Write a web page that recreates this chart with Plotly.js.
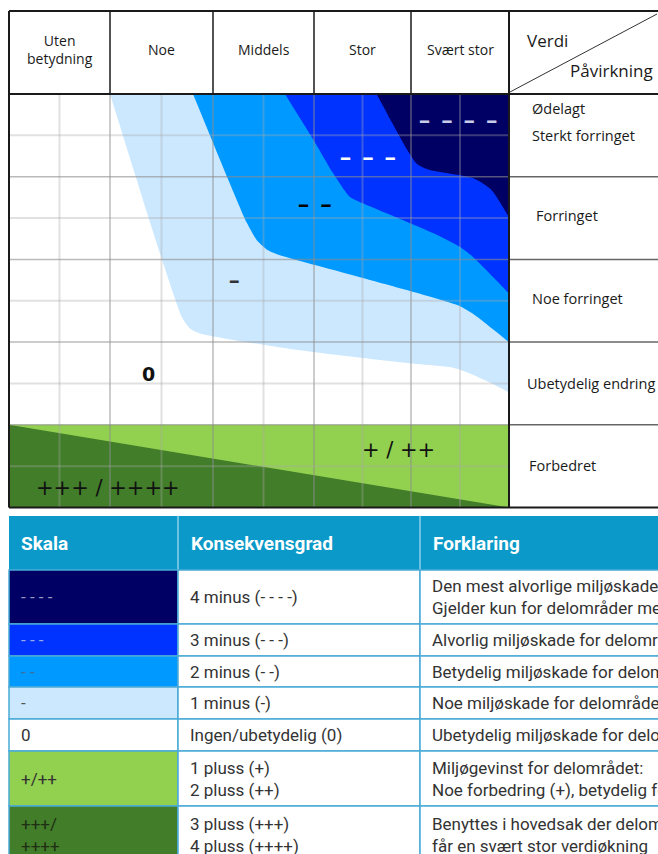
<!DOCTYPE html>
<html><head><meta charset="utf-8">
<script src="https://cdn.plot.ly/plotly-3.0.1.min.js"></script>
<style>html,body{margin:0;padding:0;background:#fff}#chart{width:658px;height:854px}</style>
</head><body><div id="chart"></div>
<script>
// ================= DATA =================
// Verdi (columns) and påvirkning (rows)
const verdiKategorier = ['Uten<br>betydning', 'Noe', 'Middels', 'Stor', 'Svært stor'];
const påvirkningRader = ['Ødelagt', 'Sterkt forringet', 'Forringet', 'Noe forringet', 'Ubetydelig endring', 'Forbedret'];

// Boundary curves (x: verdi scale 0–10, y: påvirkning scale 0 = top … 10 = bottom)
const grense1X = [2.02, 3.46, 3.62, 3.82, 5.82, 7.82, 8.92, 9.22, 9.62, 10];   // 0 | -
const grense1Y = [0, 5.4, 5.67, 5.79, 6.2, 6.49, 6.63, 6.76, 6.98, 7.22];
const grense2X = [3.68, 4.76, 4.96, 5.18, 5.42, 7.02, 8.98, 9.32, 10];          // - | --
const grense2Y = [0, 3.12, 3.54, 3.78, 3.90, 4.43, 5.11, 5.35, 6.0];
const grense3X = [5.52, 6.09, 6.48, 6.82, 7.09, 8.49, 9.02, 9.28, 10];          // -- | ---
const grense3Y = [0, 1.11, 1.91, 2.49, 2.65, 3.37, 3.70, 3.94, 4.82];
const grense4X = [7.35, 8.15, 8.42, 9.29, 9.65, 10];                            // --- | ----
const grense4Y = [0, 1.68, 1.84, 2.04, 2.32, 2.97];
// Improvement row
const forbedretLysX = [0, 10, 10, 0];
const forbedretLysY = [8, 8, 10, 10];
const forbedretMørkX = [0, 10, 0];
const forbedretMørkY = [8, 10, 10];

const båndEtiketter = ['– – – –', '– – –', '– –', '–', '0', '+ / ++', '+++ / ++++'];

// Table
const tabellHode = ['Skala', 'Konsekvensgrad', 'Forklaring'];
const skala = ['- - - -', '- - -', '- -', '-', '0', '+/++', '+++/<br>++++'];
const konsekvensgrad = ['4 minus (- - - -)', '3 minus (- - -)', '2 minus (- -)', '1 minus (-)',
  'Ingen/ubetydelig (0)', '1 pluss (+)<br>2 pluss (++)', '3 pluss (+++)<br>4 pluss (++++)'];
const forklaring = [
  'Den mest alvorlige miljøskaden som kan oppnås for delområdet.<br>Gjelder kun for delområder med svært stor verdi.',
  'Alvorlig miljøskade for delområdet',
  'Betydelig miljøskade for delområdet',
  'Noe miljøskade for delområdet',
  'Ubetydelig miljøskade for delområdet',
  'Miljøgevinst for delområdet:<br>Noe forbedring (+), betydelig forbedring (++)',
  'Benyttes i hovedsak der delområder i dag har liten verdi, men<br>får en svært stor verdiøkning'];

// ================= STYLE / LAYOUT =================
const W = 658, H = 854;
const P = v => v / W;          // pixel x -> paper
const Q = v => 1 - v / H;      // pixel y -> paper
const xL = 9, xR = 509, yT = 94, yB = 507.5, yHead = 11;
const XU = v => (v - xL) / 50; // pixel x -> x-axis units
const kolPx = [9, 110, 213, 314, 411, 509];   // column borders (pixels)

const C = {navy: '#000064', blue: '#0033FF', mid: '#0099FF', light: '#CCE8FF',
  lgreen: '#92D050', dgreen: '#427D2A', head: '#0A99C8', tborder: '#4AABD6'};

function band(xs, ys) {
  const n = xs.length, X = xs.slice(), Y = ys.slice(), e = 0.6;
  X.unshift(xs[0] - (xs[1] - xs[0]) / (ys[1] - ys[0]) * e); Y.unshift(-e);
  X.push(10 + e); Y.push(ys[n - 1] + (ys[n - 1] - ys[n - 2]) / (xs[n - 1] - xs[n - 2]) * e);
  X.push(10 + e); Y.push(-e);
  return {X, Y};
}
function fillTrace(x, y, color, spline) {
  return {type: 'scatter', mode: 'lines', x, y, fill: 'toself', fillcolor: color,
    line: {width: 0, color, shape: spline ? 'spline' : 'linear', smoothing: 0.6},
    hoverinfo: 'skip', showlegend: false};
}
const traces = [];
traces.push(fillTrace(forbedretLysX, forbedretLysY, C.lgreen, false));
traces.push(fillTrace(forbedretMørkX, forbedretMørkY, C.dgreen, false));
[[grense1X, grense1Y, C.light], [grense2X, grense2Y, C.mid], [grense3X, grense3Y, C.blue], [grense4X, grense4Y, C.navy]]
  .forEach(([gx, gy, col]) => { const b = band(gx, gy); traces.push(fillTrace(b.X, b.Y, col, true)); });

const shapes = [];
const stMajor = {color: 'rgba(140,140,140,0.6)', width: 1.5};
const stMinor = {color: 'rgba(170,170,170,0.35)', width: 2};
// vertical grid: column borders + half columns
for (let c = 0; c < 5; c++) {
  const a = XU(kolPx[c]), b = XU(kolPx[c + 1]);
  shapes.push({type: 'line', xref: 'x', yref: 'y', x0: (a + b) / 2, x1: (a + b) / 2, y0: 0, y1: 10, line: stMinor, layer: 'above'});
  if (c > 0) shapes.push({type: 'line', xref: 'x', yref: 'y', x0: a, x1: a, y0: 0, y1: 10, line: stMajor, layer: 'above'});
}
for (let i = 1; i < 10; i++) {
  shapes.push({type: 'line', xref: 'x', yref: 'y', x0: 0, x1: 10, y0: i, y1: i, line: i % 2 ? stMinor : stMajor, layer: 'above'});
}
// right column row separators
for (let i = 2; i < 10; i += 2) {
  shapes.push({type: 'line', xref: 'paper', yref: 'y', x0: P(xR), x1: 1.05, y0: i, y1: i,
    line: {color: '#666', width: 1.5}});
}
// frame
const blk = {color: '#1a1a1a', width: 2};
shapes.push({type: 'line', xref: 'paper', yref: 'paper', x0: P(xL), x1: 1.05, y0: Q(yHead), y1: Q(yHead), line: blk});
shapes.push({type: 'line', xref: 'paper', yref: 'paper', x0: P(xL), x1: 1.05, y0: Q(yT), y1: Q(yT), line: blk});
shapes.push({type: 'line', xref: 'paper', yref: 'paper', x0: P(xL), x1: 1.05, y0: Q(yB), y1: Q(yB), line: blk});
shapes.push({type: 'line', xref: 'paper', yref: 'paper', x0: P(xL), x1: P(xL), y0: Q(yHead), y1: Q(yB), line: blk});
shapes.push({type: 'line', xref: 'paper', yref: 'paper', x0: P(xR), x1: P(xR), y0: Q(yHead), y1: Q(yB), line: blk});
for (let c = 1; c < 5; c++) {
  shapes.push({type: 'line', xref: 'paper', yref: 'paper', x0: P(kolPx[c]), x1: P(kolPx[c]), y0: Q(yHead), y1: Q(yT), line: {color: '#1a1a1a', width: 1.5}});
}
// diagonal in Verdi/Påvirkning cell
shapes.push({type: 'line', xref: 'paper', yref: 'paper', x0: P(xR + 1), y0: Q(92), x1: P(657), y1: Q(14), line: {color: '#333', width: 1}});

const ann = [];
const hdrFont = {family: 'Open Sans', size: 14, color: '#1a1a1a'};
verdiKategorier.forEach((t, i) => ann.push({xref: 'x', yref: 'paper', x: XU((kolPx[i] + kolPx[i + 1]) / 2), y: Q(50), text: t,
  showarrow: false, font: hdrFont, xanchor: 'center', yanchor: 'middle'}));
ann.push({xref: 'paper', yref: 'paper', x: P(525), y: Q(41), text: 'Verdi', showarrow: false,
  font: {family: 'Open Sans', size: 17, color: '#1a1a1a'}, xanchor: 'left', yanchor: 'middle'});
ann.push({xref: 'paper', yref: 'paper', x: P(568), y: Q(71), text: 'Påvirkning', showarrow: false,
  font: {family: 'Open Sans', size: 17, color: '#1a1a1a'}, xanchor: 'left', yanchor: 'middle'});
// row labels (right column)
const radPos = [0.34, 1.0, 2.95, 4.94, 7.0, 8.98];
const radX = [530, 530, 534, 530, 525, 527];
påvirkningRader.forEach((t, i) => ann.push({xref: 'paper', yref: 'y', x: P(radX[i]), y: radPos[i], text: t,
  showarrow: false, font: {family: 'Open Sans', size: 14.5, color: '#1a1a1a'}, xanchor: 'left', yanchor: 'middle'}));
// band labels
const etikettPos = [[8.98, 0.6], [7.18, 1.5], [6.1, 2.64], [4.5, 4.5], [2.78, 6.78], [7.78, 8.62], [1.98, 9.52]];
const etikettStil = [
  {family: 'Open Sans', size: 22, color: '#C8CCE8', weight: 'bold'},
  {family: 'Open Sans', size: 22, color: '#FFFFFF', weight: 'bold'},
  {family: 'Open Sans', size: 22, color: '#000000', weight: 'bold'},
  {family: 'Open Sans', size: 21, color: '#333333', weight: 'bold'},
  {family: 'DejaVu Sans', size: 19, color: '#111111', weight: 'bold'},
  {family: 'DejaVu Sans', size: 21, color: '#111111'},
  {family: 'DejaVu Sans', size: 21, color: '#111111'}];
båndEtiketter.forEach((t, i) => ann.push({xref: 'x', yref: 'y', x: etikettPos[i][0], y: etikettPos[i][1],
  text: t.replace(/ /g, i < 4 ? '\u00A0\u00A0' : ' '), showarrow: false, font: etikettStil[i],
  xanchor: 'center', yanchor: 'middle'}));

// ---- table ----
const tY = [516, 570, 624, 656, 687, 719, 751, 806, 880];
const tX = [9, 178, 420, 700];
const skalaFarger = [C.navy, C.blue, C.mid, C.light, '#FFFFFF', C.lgreen, C.dgreen];
const skalaTekst = ['#9A9AC0', '#9AAAE8', '#3D6E99', '#555555', '#333333', '#333333', '#1F2F14'];
const tFont = {family: 'Roboto', size: 17, color: '#333333'};
// header
shapes.push({type: 'rect', xref: 'paper', yref: 'paper', x0: P(tX[0]), x1: P(tX[3]), y0: Q(tY[0]), y1: Q(tY[1]),
  fillcolor: C.head, line: {width: 0}});
for (let c = 1; c < 3; c++) shapes.push({type: 'line', xref: 'paper', yref: 'paper', x0: P(tX[c]), x1: P(tX[c]),
  y0: Q(tY[0]), y1: Q(tY[1]), line: {color: '#8FD0EA', width: 1.5}});
tabellHode.forEach((t, c) => ann.push({xref: 'paper', yref: 'paper', x: P(tX[c] + (c === 0 ? 10 : 11)), y: Q((tY[0] + tY[1]) / 2),
  text: '<b>' + t + '</b>', showarrow: false, font: {family: 'Roboto', size: 19, color: '#FFFFFF'},
  xanchor: 'left', yanchor: 'middle'}));
// body
skala.forEach((s, r) => {
  const y0 = tY[r + 1], y1 = tY[r + 2], ym = r === 6 ? 835 : (y0 + y1) / 2;
  shapes.push({type: 'rect', xref: 'paper', yref: 'paper', x0: P(tX[0]), x1: P(tX[1]), y0: Q(y0), y1: Q(y1),
    fillcolor: skalaFarger[r], line: {color: C.tborder, width: 1.5}});
  for (let c = 1; c < 3; c++) shapes.push({type: 'rect', xref: 'paper', yref: 'paper', x0: P(tX[c]), x1: P(tX[c + 1]),
    y0: Q(y0), y1: Q(y1), fillcolor: '#FFFFFF', line: {color: C.tborder, width: 1.5}});
  ann.push({xref: 'paper', yref: 'paper', x: P(tX[0] + 10), y: Q(ym), text: s, showarrow: false,
    font: Object.assign({}, tFont, {color: skalaTekst[r]}), xanchor: 'left', yanchor: 'middle', align: 'left'});
  ann.push({xref: 'paper', yref: 'paper', x: P(tX[1] + 10), y: Q(ym), text: konsekvensgrad[r], showarrow: false,
    font: tFont, xanchor: 'left', yanchor: 'middle', align: 'left'});
  ann.push({xref: 'paper', yref: 'paper', x: P(tX[2] + 10), y: Q(ym), text: forklaring[r], showarrow: false,
    font: tFont, xanchor: 'left', yanchor: 'middle', align: 'left'});
});

const layout = {
  width: W, height: H, margin: {l: 0, r: 0, t: 0, b: 0}, paper_bgcolor: '#fff', plot_bgcolor: 'rgba(0,0,0,0)',
  xaxis: {domain: [P(xL), P(xR)], range: [0, 10], showgrid: false, zeroline: false, showticklabels: false, ticks: '', fixedrange: true},
  yaxis: {domain: [Q(yB), Q(yT)], range: [10, 0], showgrid: false, zeroline: false, showticklabels: false, ticks: '', fixedrange: true},
  shapes, annotations: ann, showlegend: false
};
Plotly.newPlot('chart', traces, layout, {staticPlot: true, displayModeBar: false});
</script></body></html>
